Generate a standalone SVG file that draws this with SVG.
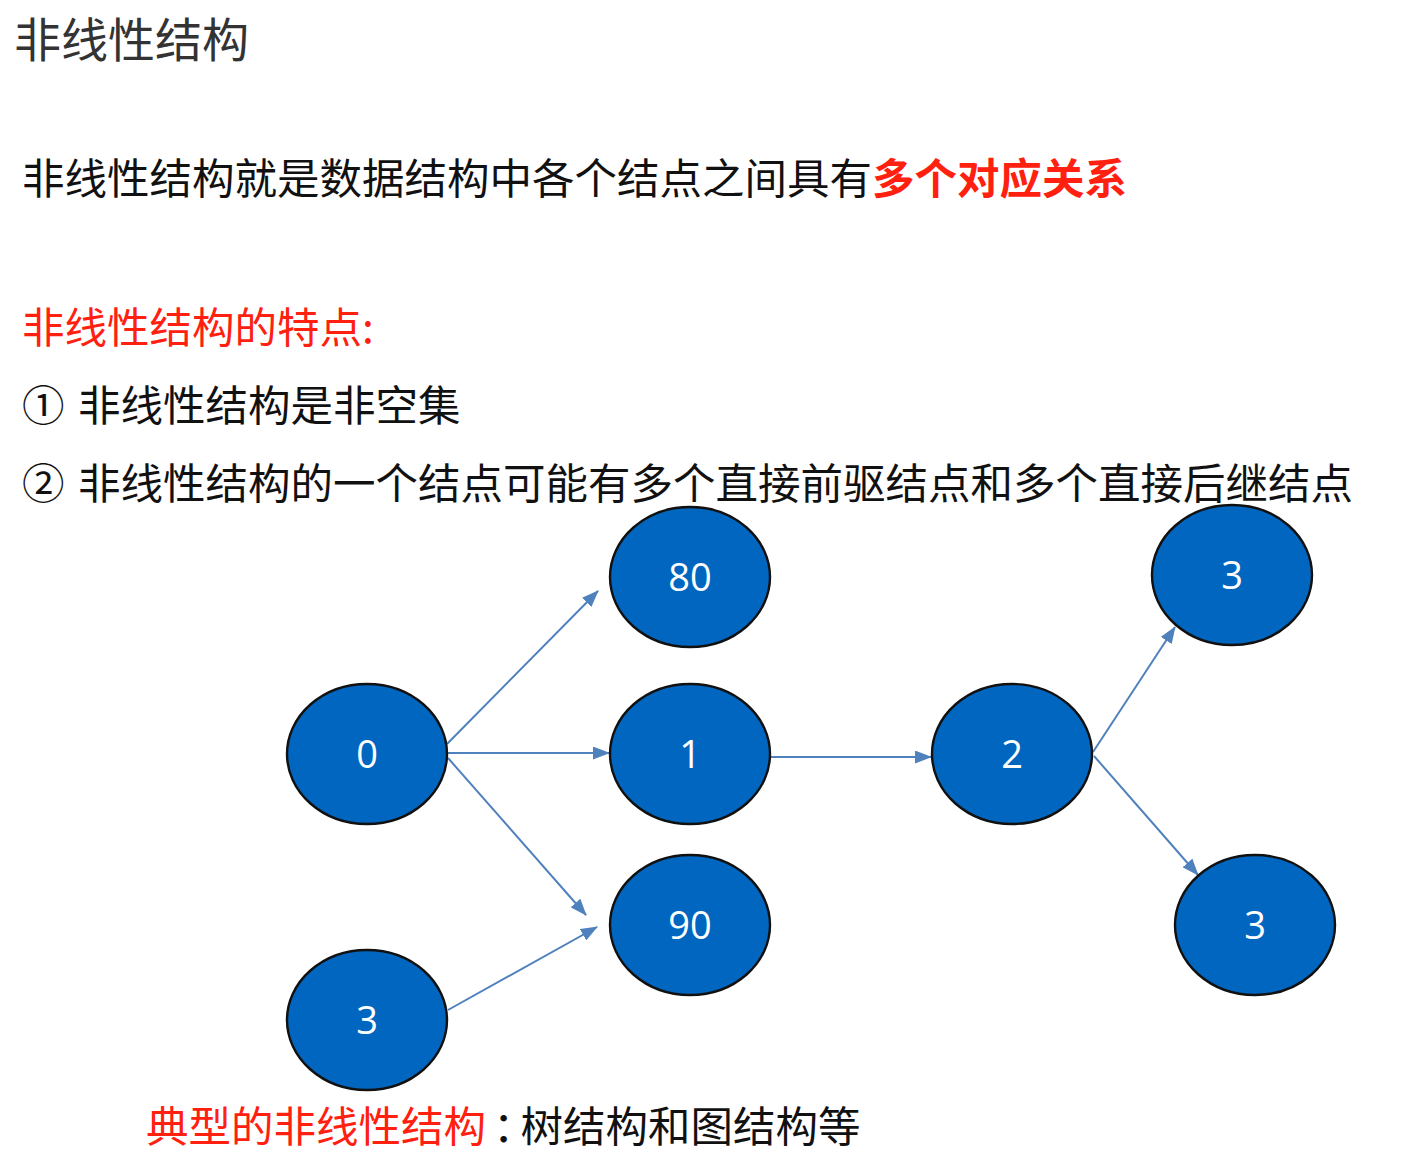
<svg xmlns="http://www.w3.org/2000/svg" width="1422" height="1167" viewBox="0 0 1422 1167">
<style>
.cjk{font-family:"Noto Sans CJK SC","Noto Sans",sans-serif;font-size:42.5px;fill:#111}
.red{fill:#ff2010}
.node ellipse{fill:#0066bf;stroke:#111;stroke-width:2.4}
.node text{font-family:"Open Sans","Noto Sans",sans-serif;font-size:38px;fill:#fff;text-anchor:middle}
.edge{stroke:#4f81bd;stroke-width:2;fill:none;marker-end:url(#ah)}
</style>
<defs>
<marker id="ah" markerUnits="userSpaceOnUse" markerWidth="17" markerHeight="13" refX="16" refY="6.5" orient="auto">
<path d="M0,0 L17,6.5 L0,13 z" fill="#4f81bd"/>
</marker>
</defs>
<rect width="1422" height="1167" fill="#fff"/>
<text x="14" y="57" style="font-family:'Noto Sans CJK SC',sans-serif;font-size:47px;fill:#333">非线性结构</text>
<text class="cjk" x="22" y="194">非线性结构就是数据结构中各个结点之间具有<tspan class="red" font-weight="bold">多个对应关系</tspan></text>
<text class="cjk red" x="22" y="343">非线性结构的特点:</text>
<text class="cjk" y="421"><tspan x="22">①</tspan><tspan x="78">非线性结构是非空集</tspan></text>
<text class="cjk" y="499"><tspan x="22">②</tspan><tspan x="78">非线性结构的一个结点可能有多个直接前驱结点和多个直接后继结点</tspan></text>
<text class="cjk" x="146" y="1142"><tspan class="red">典型的非线性结构</tspan><tspan dx="7" style="letter-spacing:-15px">：</tspan>树结构和图结构等</text>
<g id="edges">
<line class="edge" x1="447" y1="744" x2="598" y2="591"/>
<line class="edge" x1="448" y1="753" x2="609" y2="753"/>
<line class="edge" x1="448" y1="758" x2="586" y2="915"/>
<line class="edge" x1="448" y1="1010" x2="597" y2="927"/>
<line class="edge" x1="770" y1="757" x2="931" y2="757"/>
<line class="edge" x1="1093" y1="752" x2="1175" y2="627"/>
<line class="edge" x1="1094" y1="756" x2="1198" y2="875"/>
</g>
<g id="n0" class="node"><ellipse cx="367" cy="754" rx="80" ry="70"/><text x="367" y="768">0</text></g>
<g id="n80" class="node"><ellipse cx="690" cy="577" rx="80" ry="70"/><text x="690" y="591">80</text></g>
<g id="n1" class="node"><ellipse cx="690" cy="754" rx="80" ry="70"/><text x="690" y="768">1</text></g>
<g id="n90" class="node"><ellipse cx="690" cy="925" rx="80" ry="70"/><text x="690" y="939">90</text></g>
<g id="n3a" class="node"><ellipse cx="367" cy="1020" rx="80" ry="70"/><text x="367" y="1034">3</text></g>
<g id="n2" class="node"><ellipse cx="1012" cy="754" rx="80" ry="70"/><text x="1012" y="768">2</text></g>
<g id="n3b" class="node"><ellipse cx="1232" cy="575" rx="80" ry="70"/><text x="1232" y="589">3</text></g>
<g id="n3c" class="node"><ellipse cx="1255" cy="925" rx="80" ry="70"/><text x="1255" y="939">3</text></g>
</svg>
